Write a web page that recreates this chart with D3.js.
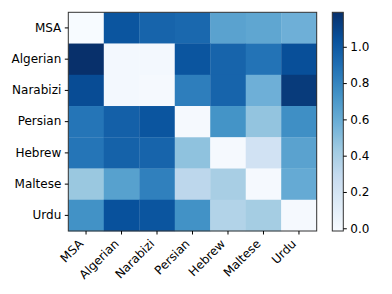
<!DOCTYPE html>
<html><head><meta charset="utf-8">
<script src="https://cdn.jsdelivr.net/npm/d3@7"></script>
<style>
body{margin:0;background:#fff;}
text{font-family:"DejaVu Sans",sans-serif;}
</style></head>
<body><svg id="c" width="392" height="294"></svg>
<script>
const categories = ["MSA","Algerian","Narabizi","Persian","Hebrew","Maltese","Urdu"];
const values = [
  [-0.015, 1.02, 0.95, 0.93, 0.65, 0.63, 0.58],
  [1.19, 0.01, 0.01, 1.02, 0.95, 0.88, 1.05],
  [1.06, 0.01, 0.0, 0.83, 0.95, 0.58, 1.14],
  [0.87, 0.97, 1.02, 0.0, 0.73, 0.47, 0.75],
  [0.87, 0.96, 0.95, 0.48, 0.0, 0.22, 0.65],
  [0.45, 0.66, 0.82, 0.32, 0.40, 0.0, 0.61],
  [0.74, 1.04, 1.02, 0.74, 0.36, 0.41, 0.0]
];
const cbTicks = [0.0, 0.2, 0.4, 0.6, 0.8, 1.0];
const bluesStops = ["#f7fbff","#deebf7","#c6dbef","#9ecae1","#6baed6","#4292c6","#2171b5","#08519c","#08306b"];

const svg = d3.select("#c");
const L = 68.3, R = 316.7, T = 12.3, B = 231;
const flat = values.flat();
const [vmin, vmax] = d3.extent(flat);
const color = d3.scaleLinear()
  .domain(bluesStops.map((_, i) => vmin + (vmax - vmin) * i / (bluesStops.length - 1)))
  .range(bluesStops).interpolate(d3.interpolateRgb).clamp(true);

const x = d3.scaleBand().domain(categories).range([L, R]);
const y = d3.scaleBand().domain(categories).range([T, B]);

const cells = [];
values.forEach((row, i) => row.forEach((v, j) => cells.push({r: categories[i], c: categories[j], v})));
svg.append("g").selectAll("rect").data(cells).join("rect")
  .attr("x", d => x(d.c)).attr("y", d => y(d.r))
  .attr("width", x.bandwidth() + 0.3).attr("height", y.bandwidth() + 0.3)
  .attr("fill", d => color(d.v));

// frame
svg.append("rect").attr("x", L).attr("y", T).attr("width", R - L).attr("height", B - T)
  .attr("fill", "none").attr("stroke", "#333").attr("stroke-width", 1);

// y axis
const ya = svg.append("g").attr("transform", `translate(${L},0)`)
  .call(d3.axisLeft(y).tickSize(3.5).tickPadding(3.5));
ya.select(".domain").remove();
ya.selectAll("text").attr("font-size", 12).attr("fill", "#000");
ya.selectAll("line").attr("stroke", "#000");

// x axis
const xa = svg.append("g").attr("transform", `translate(0,${B})`)
  .call(d3.axisBottom(x).tickSize(3.5));
xa.select(".domain").remove();
xa.selectAll("line").attr("stroke", "#000");
xa.selectAll("text").remove();
xa.selectAll(".tick").append("text")
  .attr("transform", "translate(-2,13.5) rotate(-45)")
  .attr("text-anchor", "end").attr("font-size", 12).attr("fill", "#000")
  .text(d => d);

// colorbar
const cbL = 332.3, cbW = 11;
const cy = d3.scaleLinear().domain([vmin, vmax]).range([B, T]);
const defs = svg.append("defs");
const grad = defs.append("linearGradient").attr("id", "cbg")
  .attr("x1", 0).attr("y1", 1).attr("x2", 0).attr("y2", 0);
d3.range(0, 1.0001, 0.02).forEach(t => {
  grad.append("stop").attr("offset", t).attr("stop-color", color(vmin + t * (vmax - vmin)));
});
svg.append("rect").attr("x", cbL).attr("y", T).attr("width", cbW).attr("height", B - T)
  .attr("fill", "url(#cbg)").attr("stroke", "#333").attr("stroke-width", 1);
const ca = svg.append("g").attr("transform", `translate(${cbL + cbW},0)`)
  .call(d3.axisRight(cy).tickValues(cbTicks).tickFormat(d3.format(".1f")).tickSize(3.5).tickPadding(3.5));
ca.select(".domain").remove();
ca.selectAll("text").attr("font-size", 12).attr("fill", "#000");
ca.selectAll("line").attr("stroke", "#000");
</script></body></html>
